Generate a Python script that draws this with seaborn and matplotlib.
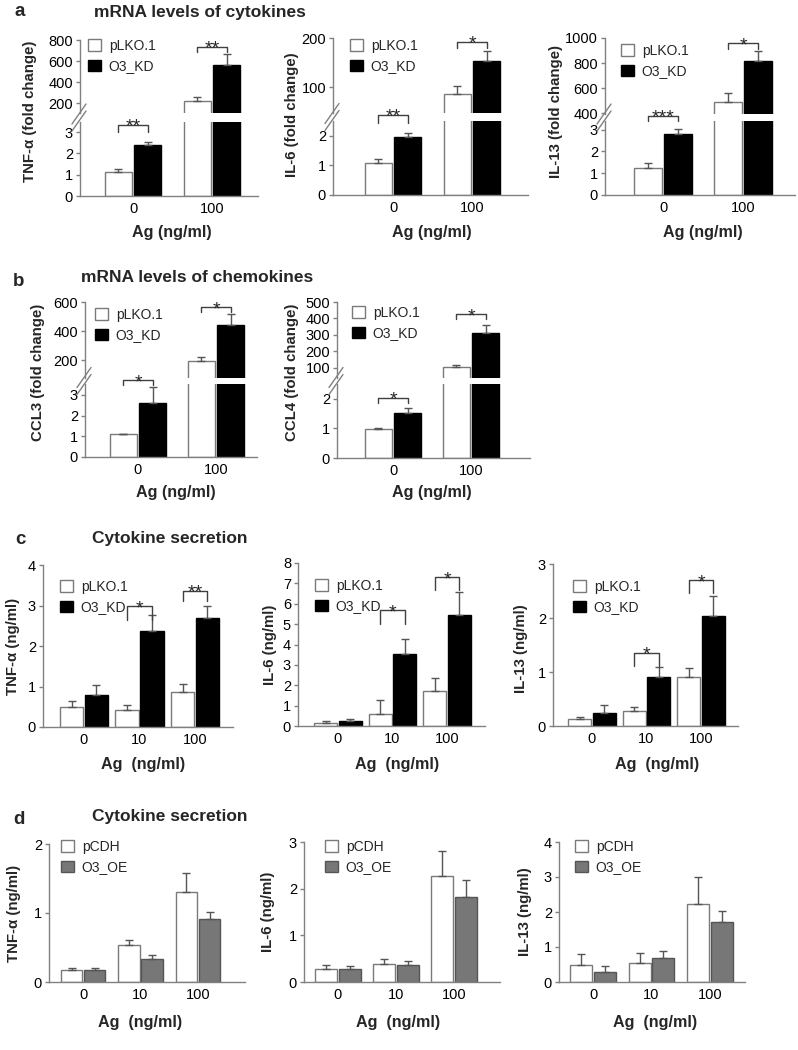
import matplotlib
matplotlib.use("Agg")
import pandas as pd
import matplotlib.pyplot as plt
import seaborn as sns
from matplotlib.patches import Patch
from matplotlib.lines import Line2D

W, H = 798, 1050

# ---------------- data (mean, SD) ----------------
kd_groups = ["pLKO.1", "O3_KD"]
oe_groups = ["pCDH", "O3_OE"]
ag_two = ["0", "100"]
ag_three = ["0", "10", "100"]

# a: mRNA levels of cytokines (fold change)
tnf_mrna_plko, tnf_mrna_plko_sd = [1.13, 220], [0.15, 35]
tnf_mrna_kd, tnf_mrna_kd_sd = [2.4, 565], [0.15, 100]
il6_mrna_plko, il6_mrna_plko_sd = [1.07, 86], [0.13, 16]
il6_mrna_kd, il6_mrna_kd_sd = [1.95, 153], [0.15, 21]
il13_mrna_plko, il13_mrna_plko_sd = [1.25, 490], [0.22, 70]
il13_mrna_kd, il13_mrna_kd_sd = [2.82, 820], [0.23, 80]

# b: mRNA levels of chemokines (fold change)
ccl3_plko, ccl3_plko_sd = [1.1, 190], [0.03, 32]
ccl3_kd, ccl3_kd_sd = [2.6, 440], [0.78, 75]
ccl4_plko, ccl4_plko_sd = [0.98, 103], [0.02, 15]
ccl4_kd, ccl4_kd_sd = [1.52, 312], [0.17, 50]

# c: cytokine secretion, knock-down (ng/ml)
tnf_sec_plko, tnf_sec_plko_sd = [0.5, 0.42, 0.87], [0.15, 0.13, 0.18]
tnf_sec_kd, tnf_sec_kd_sd = [0.8, 2.37, 2.7], [0.23, 0.4, 0.3]
il6_sec_plko, il6_sec_plko_sd = [0.16, 0.57, 1.74], [0.1, 0.7, 0.6]
il6_sec_kd, il6_sec_kd_sd = [0.25, 3.52, 5.43], [0.1, 0.73, 1.13]
il13_sec_plko, il13_sec_plko_sd = [0.13, 0.28, 0.91], [0.03, 0.08, 0.16]
il13_sec_kd, il13_sec_kd_sd = [0.25, 0.91, 2.04], [0.13, 0.19, 0.37]

# d: cytokine secretion, over-expression (ng/ml)
tnf_oe_pcdh, tnf_oe_pcdh_sd = [0.18, 0.53, 1.31], [0.03, 0.08, 0.27]
tnf_oe, tnf_oe_sd = [0.18, 0.34, 0.91], [0.03, 0.05, 0.11]
il6_oe_pcdh, il6_oe_pcdh_sd = [0.27, 0.38, 2.28], [0.1, 0.12, 0.52]
il6_oe, il6_oe_sd = [0.27, 0.37, 1.83], [0.07, 0.07, 0.35]
il13_oe_pcdh, il13_oe_pcdh_sd = [0.48, 0.55, 2.22], [0.32, 0.27, 0.78]
il13_oe, il13_oe_sd = [0.3, 0.68, 1.72], [0.15, 0.22, 0.3]

# significance brackets: (axis part, group index, line value, leg value, stars)
tnf_mrna_sig = [("lo", 0, 3.33, 3.02, "**"), ("up", 1, 735, 685, "**")]
il6_mrna_sig = [("lo", 0, 2.71, 2.44, "**"), ("up", 1, 192, 180, "*")]
il13_mrna_sig = [("lo", 0, 3.64, 3.41, "***"), ("up", 1, 960, 912, "*")]
ccl3_sig = [("lo", 0, 3.72, 3.48, "*"), ("up", 1, 565, 531, "*")]
ccl4_sig = [("lo", 0, 2.03, 1.86, "*"), ("up", 1, 427, 397, "*")]
tnf_sec_sig = [("one", 1, 2.98, 2.65, "*"), ("one", 2, 3.37, 3.1, "**")]
il6_sec_sig = [("one", 1, 5.67, 5.0, "*"), ("one", 2, 7.31, 6.66, "*")]
il13_sec_sig = [("one", 1, 1.36, 1.12, "*"), ("one", 2, 2.7, 2.46, "*")]

# ---------------- style ----------------
sns.set_theme(style="ticks")
plt.rcParams["font.family"] = ["Liberation Sans", "DejaVu Sans"]
plt.rcParams.update({
    "axes.edgecolor": "#808080", "axes.linewidth": 1.0,
    "ytick.color": "#808080", "ytick.labelcolor": "black",
    "xtick.labelcolor": "black",
    "ytick.major.size": 3, "ytick.major.width": 1, "ytick.major.pad": 2,
    "xtick.major.size": 0, "xtick.major.pad": 4,
    "xtick.labelsize": 10.5, "ytick.labelsize": 10.5,
})

KD_COLORS = {"pLKO.1": "white", "O3_KD": "black"}
KD_EDGES = ["#7a7a7a", "black"]
OE_COLORS = {"pCDH": "white", "O3_OE": "#777777"}
OE_EDGES = ["#7a7a7a", "#555555"]

fig = plt.figure(figsize=(W / 100, H / 100), dpi=100)


def fx(x):
    return x / W


def fy(y):
    return 1 - y / H


def box(left, right, top, bottom):
    return [fx(left), fy(bottom), (right - left) / W, (bottom - top) / H]


def make_df(cats, hues, a, a_sd, b, b_sd):
    return pd.DataFrame({
        "Ag": cats * 2,
        "group": [hues[0]] * len(cats) + [hues[1]] * len(cats),
        "value": a + b,
        "sd": a_sd + b_sd,
    })


def bar_layer(ax, df, order, hues, colors, edges, width, gap):
    sns.barplot(data=df, x="Ag", y="value", hue="group", order=order,
                hue_order=hues, palette=colors, errorbar=None, width=width,
                gap=gap, legend=False, linewidth=1, ax=ax)
    centers = {}
    for p in ax.patches:
        xc = p.get_x() + p.get_width() / 2
        i = int(round(xc))
        j = 0 if xc < i else 1
        p.set_edgecolor(edges[j])
        centers[(i, j)] = xc
    for (i, j), xc in centers.items():
        row = df[(df["Ag"] == order[i]) & (df["group"] == hues[j])].iloc[0]
        ax.errorbar(xc, row["value"], yerr=[[0], [row["sd"]]], fmt="none",
                    ecolor="#555555", elinewidth=1, capsize=3, capthick=1)
    ax.set_xlabel("")
    ax.set_ylabel("")
    return centers


def bracket(ax, centers, i, y, leg, stars):
    x1, x2 = centers[(i, 0)], centers[(i, 1)]
    ax.plot([x1, x1, x2, x2], [leg, y, y, leg], color="#404040", lw=1,
            clip_on=False)
    ax.annotate(stars, xy=((x1 + x2) / 2, y), xytext=(0, -5),
                textcoords="offset points", ha="center", va="baseline",
                fontsize=14, annotation_clip=False)


def legend(hues, colors, edges, x, y):
    handles = [Patch(facecolor=colors[h], edgecolor=e, linewidth=1)
               for h, e in zip(hues, edges)]
    fig.legend(handles, hues, loc="upper left", bbox_to_anchor=(fx(x), fy(y - 8)),
               bbox_transform=fig.transFigure, frameon=False, fontsize=10,
               handlelength=0.9, handleheight=0.9, handletextpad=0.6,
               labelspacing=0.45, borderpad=0, borderaxespad=0)


def labels(ylabel, ypos, xlabel, xpos):
    fig.text(fx(ypos[0]), fy(ypos[1]), ylabel, rotation=90, ha="center",
             va="center", fontsize=10.8, fontweight="bold")
    fig.text(fx(xpos[0]), fy(xpos[1]), xlabel, ha="center", va="center",
             fontsize=11.6, fontweight="bold")


def broken_panel(lay, df, sig):
    left, right, c0, sp = lay["x"]
    xlim = ((left - c0) / sp, (right - c0) / sp)
    ax_up = fig.add_axes(box(left, right, *lay["up"]))
    ax_lo = fig.add_axes(box(left, right, *lay["lo"]))
    cen = {}
    for ax in (ax_up, ax_lo):
        cen = bar_layer(ax, df, ag_two, kd_groups, KD_COLORS, KD_EDGES, 0.75, 0.08)
        ax.set_xlim(xlim)
        sns.despine(ax=ax)
    ax_up.set_ylim(lay["up_lim"])
    ax_up.set_yticks(lay["up_ticks"])
    ax_up.spines["bottom"].set_visible(False)
    ax_up.tick_params(axis="x", labelbottom=False)
    ax_lo.set_ylim(lay["lo_lim"])
    ax_lo.set_yticks(lay["lo_ticks"])
    for part, i, y, leg, stars in sig:
        bracket(ax_up if part == "up" else ax_lo, cen, i, y, leg, stars)
    # break marks on the y axis
    yc = (lay["up"][1] + lay["lo"][0]) / 2
    for off in (-3.5, 3.5):
        fig.add_artist(Line2D([fx(left - 8), fx(left + 6)],
                              [fy(yc + off + 10), fy(yc + off - 10)],
                              color="#808080", lw=1))
    legend(kd_groups, KD_COLORS, KD_EDGES, *lay["leg"])
    labels(lay["ylabel"], lay["ypos"], "Ag (ng/ml)", lay["xpos"])


def single_panel(lay, df, hues, colors, edges, width, gap, sig):
    left, right, c0, sp = lay["x"]
    ax = fig.add_axes(box(left, right, *lay["y"]))
    cen = bar_layer(ax, df, ag_three, hues, colors, edges, width, gap)
    ax.set_xlim((left - c0) / sp, (right - c0) / sp)
    ax.set_ylim(lay["lim"])
    ax.set_yticks(lay["ticks"])
    sns.despine(ax=ax)
    for part, i, y, leg, stars in sig:
        bracket(ax, cen, i, y, leg, stars)
    legend(hues, colors, edges, *lay["leg"])
    labels(lay["ylabel"], lay["ypos"], "Ag  (ng/ml)", lay["xpos"])


# ---------------- panel a ----------------
broken_panel(dict(x=(80, 258, 133, 79), up=(40, 113), lo=(122, 196),
                  up_lim=(105, 800), up_ticks=[200, 400, 600, 800],
                  lo_lim=(0, 3.47), lo_ticks=[0, 1, 2, 3], leg=(88, 47),
                  ylabel="TNF-α (fold change)", ypos=(30, 111), xpos=(172, 232)),
             make_df(ag_two, kd_groups, tnf_mrna_plko, tnf_mrna_plko_sd,
                     tnf_mrna_kd, tnf_mrna_kd_sd), tnf_mrna_sig)
broken_panel(dict(x=(333, 528, 393, 79), up=(38, 113), lo=(121, 195),
                  up_lim=(47, 200), up_ticks=[100, 200],
                  lo_lim=(0, 2.5), lo_ticks=[0, 1, 2], leg=(350, 47),
                  ylabel="IL-6 (fold change)", ypos=(292, 115), xpos=(432, 232)),
             make_df(ag_two, kd_groups, il6_mrna_plko, il6_mrna_plko_sd,
                     il6_mrna_kd, il6_mrna_kd_sd), il6_mrna_sig)
broken_panel(dict(x=(605, 795, 663, 80), up=(38, 114), lo=(121, 195),
                  up_lim=(395, 1000), up_ticks=[400, 600, 800, 1000],
                  lo_lim=(0, 3.4), lo_ticks=[0, 1, 2, 3], leg=(621, 52),
                  ylabel="IL-13 (fold change)", ypos=(556, 112), xpos=(703, 232)),
             make_df(ag_two, kd_groups, il13_mrna_plko, il13_mrna_plko_sd,
                     il13_mrna_kd, il13_mrna_kd_sd), il13_mrna_sig)

# ---------------- panel b ----------------
broken_panel(dict(x=(85, 257, 138, 78), up=(302, 378), lo=(384, 457),
                  up_lim=(76, 600), up_ticks=[200, 400, 600],
                  lo_lim=(0, 3.53), lo_ticks=[0, 1, 2, 3], leg=(95, 316),
                  ylabel="CCL3 (fold change)", ypos=(38, 372), xpos=(176, 493)),
             make_df(ag_two, kd_groups, ccl3_plko, ccl3_plko_sd,
                     ccl3_kd, ccl3_kd_sd), ccl3_sig)
broken_panel(dict(x=(337, 530, 393, 78), up=(302, 378), lo=(384, 458),
                  up_lim=(39, 500), up_ticks=[100, 200, 300, 400, 500],
                  lo_lim=(0, 2.5), lo_ticks=[0, 1, 2], leg=(352, 314),
                  ylabel="CCL4 (fold change)", ypos=(292, 372), xpos=(432, 493)),
             make_df(ag_two, kd_groups, ccl4_plko, ccl4_plko_sd,
                     ccl4_kd, ccl4_kd_sd), ccl4_sig)

# ---------------- panel c ----------------
single_panel(dict(x=(43, 233, 84, 55.5), y=(565, 727), lim=(0, 4),
                  ticks=[0, 1, 2, 3, 4], leg=(60, 588),
                  ylabel="TNF-α (ng/ml)", ypos=(13, 646), xpos=(143, 765)),
             make_df(ag_three, kd_groups, tnf_sec_plko, tnf_sec_plko_sd,
                     tnf_sec_kd, tnf_sec_kd_sd),
             kd_groups, KD_COLORS, KD_EDGES, 0.9, 0.06, tnf_sec_sig)
single_panel(dict(x=(298, 485, 338, 54.5), y=(563, 726), lim=(0, 8),
                  ticks=list(range(9)), leg=(315, 587),
                  ylabel="IL-6 (ng/ml)", ypos=(270, 645), xpos=(397, 765)),
             make_df(ag_three, kd_groups, il6_sec_plko, il6_sec_plko_sd,
                     il6_sec_kd, il6_sec_kd_sd),
             kd_groups, KD_COLORS, KD_EDGES, 0.9, 0.06, il6_sec_sig)
single_panel(dict(x=(553, 738, 592, 54.5), y=(564, 726), lim=(0, 3),
                  ticks=[0, 1, 2, 3], leg=(573, 588),
                  ylabel="IL-13 (ng/ml)", ypos=(521, 649), xpos=(657, 765)),
             make_df(ag_three, kd_groups, il13_sec_plko, il13_sec_plko_sd,
                     il13_sec_kd, il13_sec_kd_sd),
             kd_groups, KD_COLORS, KD_EDGES, 0.9, 0.06, il13_sec_sig)

# ---------------- panel d ----------------
single_panel(dict(x=(49, 245, 83, 57.5), y=(844, 982), lim=(0, 2),
                  ticks=[0, 1, 2], leg=(61, 848),
                  ylabel="TNF-α (ng/ml)", ypos=(14, 913), xpos=(140, 1022)),
             make_df(ag_three, oe_groups, tnf_oe_pcdh, tnf_oe_pcdh_sd,
                     tnf_oe, tnf_oe_sd),
             oe_groups, OE_COLORS, OE_EDGES, 0.8, 0.05, [])
single_panel(dict(x=(304, 500, 338, 58), y=(842, 982), lim=(0, 3),
                  ticks=[0, 1, 2, 3], leg=(325, 848),
                  ylabel="IL-6 (ng/ml)", ypos=(268, 912), xpos=(398, 1022)),
             make_df(ag_three, oe_groups, il6_oe_pcdh, il6_oe_pcdh_sd,
                     il6_oe, il6_oe_sd),
             oe_groups, OE_COLORS, OE_EDGES, 0.8, 0.05, [])
single_panel(dict(x=(559, 745, 593, 58.5), y=(842, 982), lim=(0, 4),
                  ticks=[0, 1, 2, 3, 4], leg=(575, 848),
                  ylabel="IL-13 (ng/ml)", ypos=(525, 912), xpos=(655, 1022)),
             make_df(ag_three, oe_groups, il13_oe_pcdh, il13_oe_pcdh_sd,
                     il13_oe, il13_oe_sd),
             oe_groups, OE_COLORS, OE_EDGES, 0.8, 0.05, [])

# ---------------- titles and panel letters ----------------
for letter, lpos, title, tpos in [
        ("a", (20, 12), "mRNA levels of cytokines", (200, 13)),
        ("b", (19, 282), "mRNA levels of chemokines", (197, 278)),
        ("c", (20, 539), "Cytokine secretion", (170, 538)),
        ("d", (19, 819), "Cytokine secretion", (170, 817))]:
    fig.text(fx(lpos[0]), fy(lpos[1]), letter, ha="center", va="center",
             fontsize=13.5, fontweight="bold")
    fig.text(fx(tpos[0]), fy(tpos[1]), title, ha="center", va="center",
             fontsize=12.5, fontweight="bold")

fig.savefig("out.png", dpi=100)
